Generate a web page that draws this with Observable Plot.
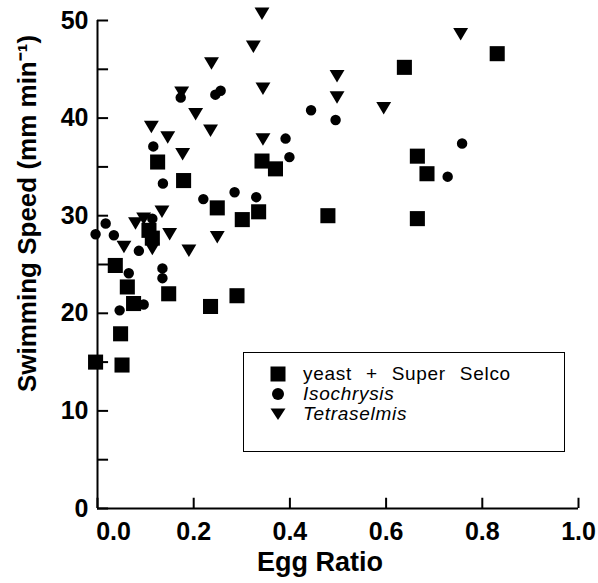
<!DOCTYPE html>
<html><head><meta charset="utf-8">
<script src="https://cdn.jsdelivr.net/npm/d3@7"></script>
<script src="https://cdn.jsdelivr.net/npm/@observablehq/plot@0.6"></script>
<style>
body{margin:0;background:#fff;}
#wrap{position:relative;width:598px;height:583px;}
#legend{position:absolute;left:243px;top:352px;width:322px;height:100px;border:1.5px solid #000;box-sizing:border-box;font-family:"Liberation Sans",Arial,sans-serif;font-size:19px;color:#000;}
#legend .row{position:absolute;left:24px;height:19px;display:flex;align-items:center;white-space:nowrap;}
#legend svg{width:20px;height:20px;margin-right:15px;flex:none;}
#legend span{display:inline-block;line-height:19px;height:19px;word-spacing:8px;letter-spacing:0.7px;}
#legend .it{font-style:italic;}
</style></head><body><div id="wrap"></div>
<script>
// Series data (Egg Ratio, Swimming Speed mm/min)
const yeastX = [0.125,0.342,0.370,0.179,0.249,0.301,0.335,0.638,0.831,0.665,0.685,0.479,0.665,0.107,0.114,0.037,0.062,0.148,0.075,0.048,-0.004,0.051,0.290,0.235];
const yeastY = [35.5,35.6,34.8,33.6,30.8,29.6,30.4,45.2,46.6,36.1,34.3,30.0,29.7,28.5,27.7,24.9,22.7,22.0,21.0,17.9,15.0,14.7,21.8,20.7];
const isoX = [0.173,0.245,0.256,0.116,0.136,0.220,0.285,0.330,0.444,0.495,0.391,0.399,0.758,0.728,0.017,-0.004,0.034,0.114,0.086,0.065,0.135,0.135,0.096,0.046];
const isoY = [42.1,42.4,42.8,37.1,33.3,31.7,32.4,31.9,40.8,39.8,37.9,36.0,37.4,34.0,29.2,28.1,28.0,29.7,26.4,24.1,24.6,23.6,20.9,20.3];
const tetX = [0.342,0.324,0.237,0.175,0.344,0.204,0.112,0.235,0.146,0.344,0.177,0.498,0.498,0.595,0.755,0.134,0.096,0.079,0.150,0.055,0.114,0.190,0.249];
const tetY = [50.7,47.3,45.6,42.6,43.0,40.4,39.1,38.7,38.0,37.8,36.3,44.3,42.1,41.0,48.6,30.4,29.7,29.2,28.1,26.8,26.6,26.4,27.8];
const seriesNames = ["yeast + Super Selco","Isochrysis","Tetraselmis"];
const xTicks = [0,0.2,0.4,0.6,0.8,1.0];
const yTicks = [0,10,20,30,40,50];
const yMinor = [0,5,10,15,20,25,30,35,40,45,50];
const xTitle = "Egg Ratio";
const yTitle = "Swimming Speed (mm min⁻¹)";

const toRows = (xs, ys, s) => xs.map((x,i)=>({x, y: ys[i], s}));
const data = [...toRows(yeastX,yeastY,seriesNames[0]), ...toRows(isoX,isoY,seriesNames[1]), ...toRows(tetX,tetY,seriesNames[2])];

const sq = {draw(c,size){const h=Math.sqrt(size)/2; c.rect(-h,-h,2*h,2*h);}};
const tri = {draw(c,size){const w=Math.sqrt(size); const hh=w*0.42; c.moveTo(-w/2,-hh); c.lineTo(w/2,-hh); c.lineTo(0,hh); c.closePath();}};
const circ = {draw(c,size){const r=Math.sqrt(size)/2; c.moveTo(r,0); c.arc(0,0,r,0,2*Math.PI);}};

const font = "Liberation Sans, Arial, Helvetica, sans-serif";
const chart = Plot.plot({
  width: 598, height: 583,
  marginLeft: 97, marginRight: 20, marginTop: 20, marginBottom: 75,
  x: {domain: [0, 1]},
  y: {domain: [0, 50]},
  style: {fontFamily: font, background: "white", color: "black", overflow: "visible"},
  marks: [
    Plot.ruleY([0], {strokeWidth: 2}),
    Plot.ruleX([0], {strokeWidth: 2}),
    // inward tick marks
    Plot.ruleY(yMinor, {y: d => d, x1: 0, x2: 0.023, strokeWidth: 2}),
    Plot.ruleX(xTicks, {x: d => d, y1: 0, y2: 1.05, strokeWidth: 2}),
    Plot.axisY({ticks: yTicks, tickSize: 0, tickPadding: 9, fontSize: 25, fontWeight: "bold", label: null}),
    Plot.axisX({ticks: xTicks.slice(1), tickSize: 0, tickPadding: 14, tickFormat: d => d.toFixed(1), fontSize: 25, fontWeight: "bold", label: null}),
    Plot.axisX({ticks: [0], tickSize: 0, tickPadding: 14, dx: 16, tickFormat: d => d.toFixed(1), fontSize: 25, fontWeight: "bold", label: null}),
    Plot.text([yTitle], {text: d => d, frameAnchor: "left", rotate: -90, dx: -70, dy: -51, fontSize: 26, fontWeight: "bold", textAnchor: "middle"}),
    Plot.text([xTitle], {text: d => d, frameAnchor: "bottom", dx: -18, dy: 62, fontSize: 27, fontWeight: "bold", textAnchor: "middle"}),
    Plot.dot(data.filter(d => d.s === seriesNames[0]), {x: "x", y: "y", symbol: sq, r: 8.5, fill: "black", stroke: "none"}),
    Plot.dot(data.filter(d => d.s === seriesNames[1]), {x: "x", y: "y", symbol: circ, r: 5.9, fill: "black", stroke: "none"}),
    Plot.dot(data.filter(d => d.s === seriesNames[2]), {x: "x", y: "y", symbol: tri, r: 8.4, fill: "black", stroke: "none"})
  ]
});
const wrap = document.getElementById("wrap");
wrap.appendChild(chart);

// legend
const legend = document.createElement("div");
legend.id = "legend";
const shapes = [
  '<rect x="2.5" y="2.5" width="15" height="15" fill="#000"/>',
  '<circle cx="10" cy="10" r="6" fill="#000"/>',
  '<path d="M2.5,4.5L17.5,4.5L10,16Z" fill="#000"/>'
];
seriesNames.forEach((name, i) => {
  const row = document.createElement("div");
  row.className = "row";
  row.style.top = (11 + i * 20) + "px";
  row.innerHTML = `<svg viewBox="0 0 20 20">${shapes[i]}</svg><span class="${i ? "it" : ""}">${name}</span>`;
  legend.appendChild(row);
});
wrap.appendChild(legend);
</script></body></html>
